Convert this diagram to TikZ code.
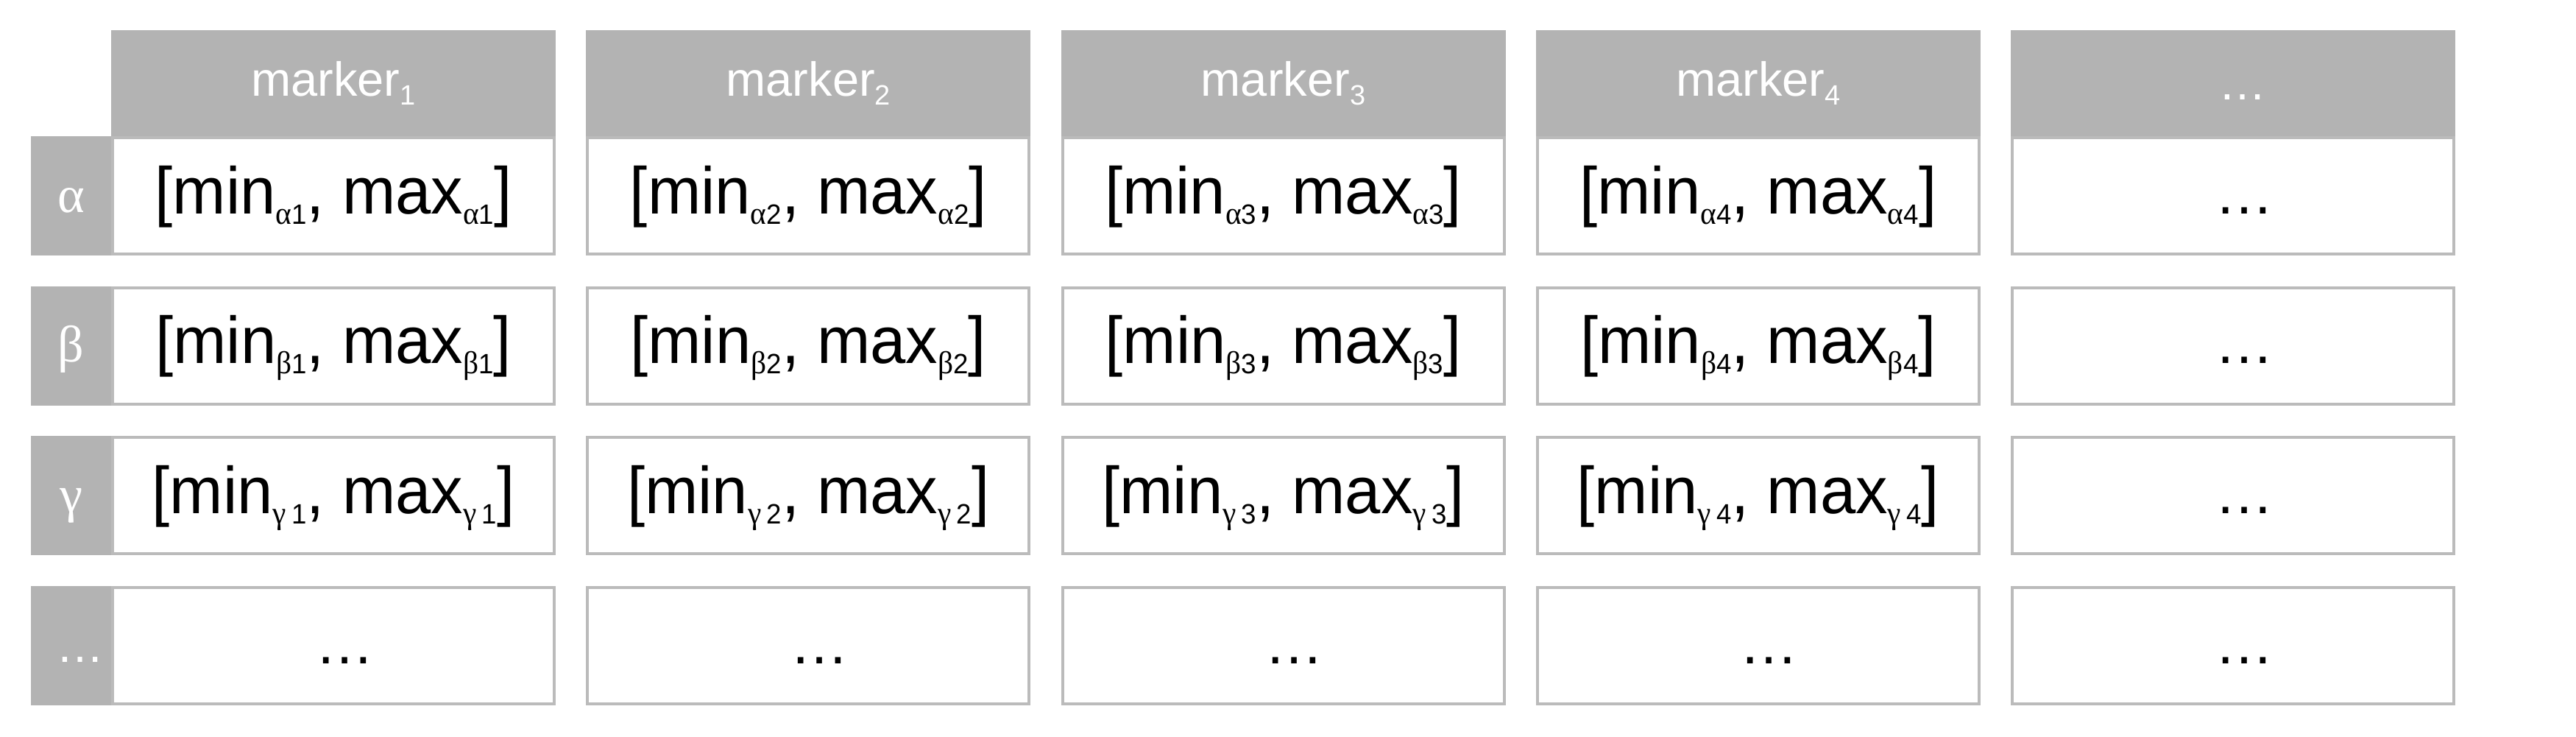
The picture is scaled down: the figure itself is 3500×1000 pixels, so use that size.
\documentclass[tikz,border=0pt]{standalone}
\usepackage{fontspec}
\usepackage{graphicx}
\setmainfont{Liberation Sans}
\newfontfamily\grk{Liberation Serif}
\definecolor{hdrgray}{HTML}{B3B3B3}
\definecolor{bordgray}{HTML}{BBBBBB}
\newcommand\mmsub[2]{\raisebox{-2.8pt}{{\fontsize{8.6}{10}\selectfont\grk #1}{\fontsize{7.6}{9}\selectfont #2}}}
\newcommand\hsub[1]{\raisebox{-2.4pt}{\fontsize{7.6}{8}\selectfont #1}}
\newcommand\mmrange[2]{\scalebox{0.965}[1]{[min\mmsub{#1}{#2}, max\mmsub{#1}{#2}]}}
\newcommand\celldots{\hspace*{6pt}{\fontsize{16}{18}\selectfont …}}
\newcommand\hdrdots{\hspace*{5.2pt}…}
\newcommand\lbldots{\hspace*{5pt}{\fontsize{13}{15}\selectfont …}}
\begin{document}
\begin{tikzpicture}[x=0.2pt,y=-0.2pt,
  hdr/.style={fill=hdrgray, text=white, minimum width=120.8pt, minimum height=28.8pt,
    inner sep=0pt, text height=17.8pt, text depth=11pt, font=\fontsize{13}{15}\selectfont},
  hdrdotstyle/.style={text height=18.9pt, text depth=9.9pt},
  cellbox/.style={draw=bordgray, line width=0.8pt, fill=white, minimum width=120pt,
    minimum height=31.6pt, inner sep=0pt, text height=20.6pt, text depth=11pt,
    font=\fontsize{18}{21}\selectfont},
  lbl/.style={fill=hdrgray, text=white, minimum width=21.8pt, minimum height=32.4pt,
    inner sep=0pt, text height=20.6pt, text depth=11.8pt, font=\fontsize{14}{16}\selectfont}
]
\useasboundingbox (0,0) rectangle (3500,1000);
% header
\foreach \k in {1,...,4}
  \node[hdr] (h\k) at ({453+645.25*(\k-1)},113) {marker\hsub{\k}};
\node[hdr, hdrdotstyle] (h5) at ({453+645.25*4},113) {\hdrdots};
% row labels
\node[lbl] (l1) at (96.5,266) {\grk α};
\node[lbl] (l2) at (96.5,469.7) {\grk β};
\node[lbl] (l3) at (96.5,673.4) {\grk γ};
\node[lbl] (l4) at (96.5,877.1) {\lbldots};
% cells
\foreach \k in {1,...,4} {
  \node[cellbox] (c1\k) at ({453+645.25*(\k-1)},266) {\mmrange{α}{\k}};
  \node[cellbox] (c2\k) at ({453+645.25*(\k-1)},469.7) {\mmrange{β}{\k}};
  \node[cellbox] (c3\k) at ({453+645.25*(\k-1)},673.4) {\mmrange{γ}{\kern1.5pt\k}};
  \node[cellbox] (c4\k) at ({453+645.25*(\k-1)},877.1) {\celldots};
}
\foreach \r/\yy in {1/266,2/469.7,3/673.4,4/877.1}
  \node[cellbox] (c\r5) at ({453+645.25*4},\yy) {\celldots};
\end{tikzpicture}
\end{document}
